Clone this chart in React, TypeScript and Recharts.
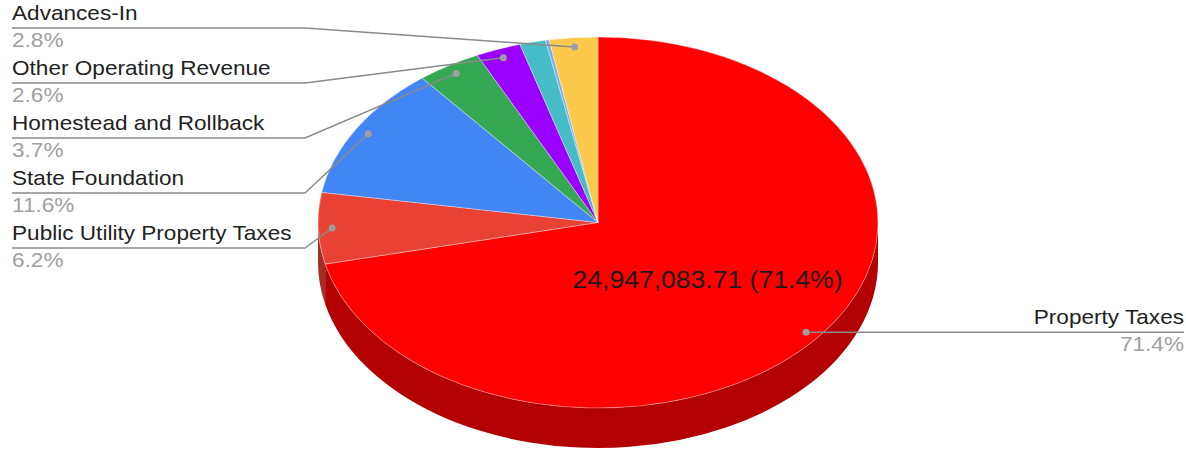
import React from 'react';
import { PieChart, Pie } from 'recharts';

// revenue sources, clockwise from 12 o'clock
const categories = [
  'Property Taxes',
  'Public Utility Property Taxes',
  'State Foundation',
  'Homestead and Rollback',
  'Other Operating Revenue',
  'Interest',
  'Miscellaneous',
  'Advances-In',
];
const amounts = [24947083.71, 2166000, 4053000, 1293000, 908000, 524000, 70000, 978000];
const colors = ['#ff0000', '#e94235', '#4285f4', '#34a853', '#9900ff', '#46bdc6', '#7baaf7', '#fcc94c'];

const W = 1186;
const H = 449;
const CX = 598;
const CY = 222.5;
const RX = 280;
const RY = 185.5;
const SQ = RY / RX; // vertical squash of the tilted pie
const DEPTH = 40;
const STRETCH = 1.13; // text in the source is a bit wide
const LABEL_MIN = 0.02;
const FONT = '"Liberation Sans", Arial, sans-serif';
const RAD = Math.PI / 180;

const total = amounts.reduce((a, b) => a + b, 0);
const data = categories.map((name, i) => ({ name, value: amounts[i], fill: colors[i] }));

// labelled slices on the left side, top to bottom
const leftOrder = (() => {
  let acc = 0;
  const items: { i: number; c: number }[] = [];
  amounts.forEach((v, i) => {
    const p = v / total;
    const mid = (acc + p / 2) * 2 * Math.PI;
    acc += p;
    if (p >= LABEL_MIN && Math.sin(mid) < 0) items.push({ i, c: Math.cos(mid) });
  });
  items.sort((a, b) => b.c - a.c);
  return items.map((d) => d.i);
})();

const shade = (hex: string, k: number) => {
  const n = parseInt(hex.slice(1), 16);
  const r = Math.round(((n >> 16) & 255) * k);
  const g = Math.round(((n >> 8) & 255) * k);
  const b = Math.round((n & 255) * k);
  return `rgb(${r},${g},${b})`;
};

const pt = (cx: number, cy: number, r: number, deg: number) => [
  cx + r * Math.cos(-deg * RAD),
  cy + r * SQ * Math.sin(-deg * RAD),
];

const Slice3D = (props: any) => {
  const { cx, cy, outerRadius: r, startAngle, endAngle, fill } = props;
  const a0 = Math.max(startAngle, endAngle);
  const a1 = Math.min(startAngle, endAngle);
  const ry = r * SQ;
  const [x0, y0] = pt(cx, cy, r, a0);
  const [x1, y1] = pt(cx, cy, r, a1);
  const large = a0 - a1 > 180 ? 1 : 0;
  const top = `M${cx},${cy} L${x0},${y0} A${r},${ry} 0 ${large} 1 ${x1},${y1} Z`;

  // visible wall: front half of the rim
  const hi = Math.min(a0, 0);
  const lo = Math.max(a1, -180);
  let side: string | null = null;
  if (hi > lo) {
    const [sx0, sy0] = pt(cx, cy, r, hi);
    const [sx1, sy1] = pt(cx, cy, r, lo);
    side = `M${sx0},${sy0} A${r},${ry} 0 0 1 ${sx1},${sy1} L${sx1},${sy1 + DEPTH} A${r},${ry} 0 0 0 ${sx0},${sy0 + DEPTH} Z`;
  }
  return (
    <g>
      {side && <path d={side} fill={shade(fill, 0.7)} stroke="none" />}
      <path d={top} fill={fill} stroke="rgba(255,255,255,0.45)" strokeWidth={0.8} />
    </g>
  );
};

const Txt = ({ x, y, size, color, anchor, children }: any) => (
  <text
    transform={`translate(${x},${y}) scale(${STRETCH},1)`}
    x={0}
    y={0}
    fontSize={size}
    fontFamily={FONT}
    fill={color}
    textAnchor={anchor}
  >
    {children}
  </text>
);

const renderLabel = (props: any) => {
  const { cx, cy, midAngle, outerRadius: r, percent, index, value, name } = props;
  const cos = Math.cos(midAngle * RAD);
  const sin = Math.sin(midAngle * RAD);
  const pctText = `${(percent * 100).toFixed(1)}%`;
  const parts: React.ReactNode[] = [];

  if (percent > 0.5) {
    const tx = cx + r * 0.5 * cos;
    const ty = cy - r * SQ * 0.5 * sin;
    const val = value.toLocaleString('en-US', { minimumFractionDigits: 2, maximumFractionDigits: 2 });
    parts.push(
      <Txt key="in" x={tx} y={ty + 8} size={23.5} color="#1a1a1a" anchor="middle">
        {`${val} (${pctText})`}
      </Txt>
    );
  }

  if (percent >= LABEL_MIN) {
    const dx = cx + r * 0.95 * cos;
    const dy = cy - r * SQ * 0.95 * sin;
    if (cos < 0) {
      const rank = leftOrder.indexOf(index);
      const ly = 28 + rank * 55;
      const ex = cx - r - 13;
      parts.push(
        <g key="lbl">
          <polyline points={`12,${ly} ${ex},${ly} ${dx},${dy}`} fill="none" stroke="#8a8a8a" strokeWidth={1.5} />
          <circle cx={dx} cy={dy} r={3.5} fill="#9e9e9e" />
          <Txt x={12} y={ly - 8} size={20} color="#222" anchor="start">{name}</Txt>
          <Txt x={12} y={ly + 19} size={20} color="#a0a0a0" anchor="start">{pctText}</Txt>
        </g>
      );
    } else {
      const rx = W - 2;
      parts.push(
        <g key="lbl">
          <line x1={dx} y1={dy} x2={rx} y2={dy} stroke="#8a8a8a" strokeWidth={1.5} />
          <circle cx={dx} cy={dy} r={3.5} fill="#9e9e9e" />
          <Txt x={rx} y={dy - 8} size={20} color="#222" anchor="end">{name}</Txt>
          <Txt x={rx} y={dy + 19} size={20} color="#a0a0a0" anchor="end">{pctText}</Txt>
        </g>
      );
    }
  }
  return <g>{parts}</g>;
};

export default function App() {
  return (
    <div style={{ width: W, height: H, background: '#fff' }}>
      <style>{'body{margin:0}'}</style>
      <PieChart width={W} height={H} margin={{ top: 0, right: 0, bottom: 0, left: 0 }}>
        <Pie
          data={data}
          dataKey="value"
          nameKey="name"
          cx={CX}
          cy={CY}
          outerRadius={RX}
          startAngle={90}
          endAngle={-270}
          stroke="none"
          shape={Slice3D}
          label={renderLabel}
          labelLine={false}
          isAnimationActive={false}
        />
      </PieChart>
    </div>
  );
}
